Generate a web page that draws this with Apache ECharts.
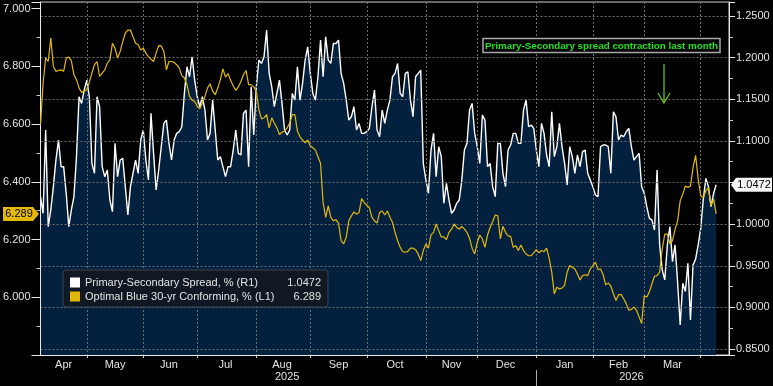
<!DOCTYPE html>
<html>
<head>
<meta charset="utf-8">
<script src="https://cdn.jsdelivr.net/npm/echarts@6/dist/echarts.min.js"></script>
<style>
html,body{margin:0;padding:0;background:#000;}
#c{width:773px;height:386px;}
</style>
</head>
<body>
<div id="c"></div>
<script>
// ---------- DATA ----------
const START_DATE = '2025-04-07';   // first weekday shown
const PAD_DAYS = 5;                // empty weekdays after last observation
const SPREAD_NAME = 'Primary-Secondary Spread, % (R1)';
const RATE_NAME = 'Optimal Blue 30-yr Conforming, % (L1)';
const MONTH_NAMES = ['Jan','Feb','Mar','Apr','May','Jun','Jul','Aug','Sep','Oct','Nov','Dec'];
const ANNOTATION = 'Primary-Secondary spread contraction last month';

// Primary-Secondary spread (right axis), one value per weekday
const spread = [
  1.033,1.013,1.113,0.997,1.017,1.045,1.077,1.101,1.069,1.069,1.037,0.997,1.017,1.033,1.081,1.153,1.145,1.161,
  1.173,1.153,1.073,1.061,1.153,1.141,1.069,1.057,1.065,1.029,1.015,1.097,1.057,1.077,1.079,1.045,1.011,1.045,1.061,1.077,1.061,1.101,
  1.113,1.077,1.053,1.133,1.085,1.041,1.065,1.093,1.121,1.125,1.097,1.077,1.101,1.109,1.111,1.117,1.157,1.189,1.177,1.201,1.173,
  1.153,1.141,1.153,1.137,1.101,1.109,1.149,1.113,1.077,1.081,1.069,1.057,1.069,1.069,1.089,1.113,1.085,1.083,1.133,1.137,1.069,1.165,1.107,
  1.165,1.197,1.193,1.201,1.233,1.181,1.165,1.141,1.157,1.173,1.145,1.113,1.107,1.113,1.157,1.149,1.189,1.149,1.169,1.197,1.213,
  1.181,1.157,1.149,1.177,1.221,1.177,1.225,1.197,1.193,1.217,1.217,1.221,1.181,1.169,1.149,1.125,1.129,1.141,1.113,1.121,1.109,1.109,
  1.111,1.115,1.141,1.161,1.113,1.105,1.137,1.121,1.137,1.149,1.177,1.181,1.193,1.157,1.153,1.181,1.183,1.149,1.129,1.177,1.181,1.185,1.073,
  1.053,1.037,1.089,1.109,1.057,1.093,1.081,1.025,1.049,1.029,1.013,1.017,1.025,1.029,1.053,1.089,1.097,1.137,1.145,1.109,
  1.093,1.073,1.131,1.125,1.069,1.073,1.045,1.033,1.097,1.097,1.061,1.045,1.089,1.095,1.109,1.109,1.097,1.097,1.137,1.149,1.117,1.119,1.115,
  1.089,1.069,1.121,1.109,1.083,1.069,1.135,1.081,1.093,1.121,1.093,1.073,1.047,1.093,1.081,1.061,1.083,1.069,1.087,1.089,1.061,1.053,
  1.045,1.035,1.033,1.093,1.095,1.095,1.093,1.061,1.135,1.129,1.101,1.107,1.105,1.111,1.115,1.093,1.077,1.081,1.085,1.045,
  1.037,1.021,1.007,1.005,0.993,1.065,0.975,0.945,0.933,0.975,0.997,0.955,0.975,0.930,0.879,0.929,0.919,0.953,0.885,0.951,0.958,0.975,
  0.995,1.030,1.055,1.045,1.021,1.037,1.0472
];

// Optimal Blue 30-yr conforming rate (left axis), one value per weekday
const rate = [
  6.599,6.742,6.829,6.817,6.898,6.800,6.783,6.786,6.788,6.783,6.829,6.832,6.819,6.771,6.754,6.725,6.710,6.714,
  6.719,6.745,6.777,6.806,6.817,6.765,6.777,6.788,6.811,6.823,6.880,6.863,6.829,6.852,6.886,6.915,6.926,6.926,6.903,6.880,6.875,6.857,
  6.863,6.846,6.834,6.825,6.817,6.846,6.872,6.871,6.852,6.788,6.817,6.817,6.814,6.806,6.794,6.768,6.760,6.737,6.696,6.683,6.679,
  6.662,6.653,6.673,6.696,6.725,6.740,6.714,6.702,6.725,6.754,6.791,6.763,6.775,6.752,6.733,6.717,6.729,6.748,6.771,6.786,6.737,6.737,6.729,
  6.714,6.650,6.618,6.622,6.633,6.587,6.622,6.604,6.587,6.564,6.572,6.576,6.587,6.604,6.633,6.633,6.576,6.556,6.545,6.535,6.545,
  6.524,6.518,6.510,6.487,6.464,6.328,6.277,6.317,6.277,6.265,6.269,6.257,6.196,6.185,6.208,6.265,6.282,6.296,6.288,6.294,6.342,6.328,
  6.319,6.311,6.277,6.265,6.257,6.294,6.299,6.285,6.299,6.277,6.260,6.225,6.196,6.173,6.158,6.156,6.159,6.170,6.170,6.165,6.150,6.127,6.162,
  6.185,6.170,6.216,6.225,6.254,6.231,6.209,6.209,6.200,6.225,6.236,6.254,6.242,6.236,6.246,6.236,6.225,6.204,6.170,6.150,
  6.190,6.216,6.202,6.173,6.216,6.242,6.262,6.285,6.282,6.202,6.246,6.225,6.213,6.211,6.173,6.179,6.162,6.181,6.162,6.150,6.144,6.144,6.154,
  6.165,6.154,6.162,6.158,6.170,6.135,6.087,6.012,6.035,6.029,6.032,6.041,6.087,6.110,6.104,6.098,6.081,6.060,6.075,6.078,6.075,6.098,
  6.110,6.121,6.096,6.098,6.078,6.043,6.050,6.039,6.012,5.989,6.009,6.009,5.995,5.978,5.955,5.958,5.966,5.955,5.932,5.909,
  6.005,6.001,6.018,6.047,6.073,6.075,6.087,6.167,6.219,6.219,6.185,6.196,6.236,6.265,6.334,6.357,6.386,6.380,6.386,6.449,6.492,6.409,
  6.352,6.346,6.369,6.380,6.317,6.340,6.289
];

// ---------- BUILD ----------
function weekdays(start, n) {
  const out = [];
  const d = new Date(start + 'T00:00:00Z');
  while (out.length < n) {
    const wd = d.getUTCDay();
    if (wd !== 0 && wd !== 6) out.push(d.toISOString().slice(0, 10));
    d.setUTCDate(d.getUTCDate() + 1);
  }
  return out;
}
const N = spread.length + PAD_DAYS;
const dates = weekdays(START_DATE, N);
const pad = a => a.concat(new Array(N - a.length).fill(null));

// month / year segments
const monthStarts = new Set();
const yearStarts = new Set();
const monthSegs = [], yearSegs = [];
let ms = 0, ys = 0;
for (let i = 1; i <= N; i++) {
  if (i === N || dates[i].slice(0, 7) !== dates[i - 1].slice(0, 7)) {
    monthSegs.push([ms, i]); ms = i;
    if (i < N) monthStarts.add(i);
  }
  if (i === N || dates[i].slice(0, 4) !== dates[i - 1].slice(0, 4)) {
    yearSegs.push([ys, i]); ys = i;
    if (i < N) yearStarts.add(i);
  }
}
const monthLabels = new Map();
monthSegs.forEach(([s, e]) => {
  if (e - s >= 15) monthLabels.set(Math.floor((s + e) / 2), MONTH_NAMES[+dates[s].slice(5, 7) - 1]);
});
const yearLabels = new Map();
yearSegs.forEach(([s, e]) => { yearLabels.set(Math.floor((s + e - 1) / 2), dates[s].slice(0, 4)); });

const FONT = '"Liberation Sans", Arial, sans-serif';
const TXT = '#e2e2e2';
const YELLOW = '#e2b90b';
const lastSpread = spread[spread.length - 1];
const lastRate = rate[rate.length - 1];

const option = {
  backgroundColor: '#000',
  animation: false,
  grid: { left: 40, right: 44, top: 2, bottom: 31, show: true, backgroundColor: '#000', borderColor: '#cfcfcf', borderWidth: 1 },
  xAxis: [
    {
      type: 'category', data: dates, boundaryGap: false, z: 3,
      axisLine: { lineStyle: { color: '#e8e8e8', width: 1 } },
      axisTick: { show: true, interval: i => monthStarts.has(i), length: 3, lineStyle: { color: '#cccccc' } },
      axisLabel: { interval: i => monthLabels.has(i), formatter: (v, i) => monthLabels.get(i) || '', color: TXT, fontSize: 11, fontFamily: FONT, margin: 4 },
      splitLine: { show: true, interval: i => monthStarts.has(i), lineStyle: { color: '#6e6e6e', type: [2, 2], width: 1 } }
    },
    {
      type: 'category', data: dates, boundaryGap: false, position: 'bottom', offset: 15,
      axisLine: { show: false },
      axisTick: { show: true, interval: i => yearStarts.has(i), length: 16, lineStyle: { color: '#aaaaaa' } },
      axisLabel: { interval: i => yearLabels.has(i), formatter: (v, i) => yearLabels.get(i) || '', color: TXT, fontSize: 11, fontFamily: FONT, margin: 1 },
      splitLine: { show: false }
    }
  ],
  yAxis: [
    {
      type: 'value', position: 'left', min: 5.8, max: 7.0232, interval: 0.2, z: 3,
      axisLine: { show: true, lineStyle: { color: '#e8e8e8' } },
      axisTick: { show: true, length: 9, lineStyle: { color: '#e8e8e8' } },
      minorTick: { show: true, splitNumber: 2, length: 4, lineStyle: { color: '#cccccc' } },
      axisLabel: { color: TXT, fontSize: 11, fontFamily: FONT, margin: 10, showMinLabel: false, showMaxLabel: false, formatter: v => v.toFixed(3) },
      splitLine: { show: false }
    },
    {
      type: 'value', position: 'right', min: 0.8428, max: 1.2668, splitNumber: 8, minInterval: 0.05, maxInterval: 0.05, z: 3,
      axisLine: { show: true, lineStyle: { color: '#e8e8e8' } },
      axisTick: { show: true, length: 6, lineStyle: { color: '#e8e8e8' } },
      minorTick: { show: true, splitNumber: 2, length: 4, lineStyle: { color: '#cccccc' } },
      axisLabel: { color: TXT, fontSize: 11, fontFamily: FONT, margin: 7, showMinLabel: false, showMaxLabel: false, formatter: v => v.toFixed(4) },
      splitLine: { show: true, lineStyle: { color: '#6e6e6e', type: [2, 2], width: 1 } }
    }
  ],
  legend: {
    orient: 'vertical', left: 63, top: 270, padding: [6, 7, 4, 7],
    itemWidth: 10, itemHeight: 10, itemGap: 1, icon: 'rect',
    backgroundColor: '#101923', borderColor: '#3c4450', borderWidth: 1, borderRadius: 3,
    selectedMode: false,
    textStyle: {
      color: TXT, fontSize: 11, fontFamily: FONT, lineHeight: 13,
      rich: {
        n: { width: 200, color: TXT, fontSize: 11, fontFamily: FONT, lineHeight: 13 },
        v: { width: 36, align: 'right', color: TXT, fontSize: 11, fontFamily: FONT, lineHeight: 13 }
      }
    },
    formatter: name => name === SPREAD_NAME
      ? '{n|' + name + '}{v|' + lastSpread.toFixed(4) + '}'
      : '{n|' + name + '}{v|' + lastRate.toFixed(3) + '}',
    data: [
      { name: SPREAD_NAME, itemStyle: { color: '#ffffff' } },
      { name: RATE_NAME, itemStyle: { color: YELLOW } }
    ]
  },
  series: [
    {
      name: SPREAD_NAME, type: 'line', xAxisIndex: 0, yAxisIndex: 1, data: pad(spread),
      symbol: 'none', showSymbol: false, z: 2,
      lineStyle: { color: '#ffffff', width: 1.4 }, itemStyle: { color: '#ffffff' },
      areaStyle: { color: '#03203f', opacity: 1, origin: 'start' }
    },
    {
      name: RATE_NAME, type: 'line', xAxisIndex: 0, yAxisIndex: 0, data: pad(rate),
      symbol: 'none', showSymbol: false, z: 4,
      lineStyle: { color: YELLOW, width: 1.2 }, itemStyle: { color: YELLOW }
    }
  ]
};

const chart = echarts.init(document.getElementById('c'), null, { renderer: 'canvas' });
chart.setOption(option);

// value tags on the axes, placed via the axes' own scales
const yL = chart.convertToPixel({ yAxisIndex: 0 }, lastRate);
const yR = chart.convertToPixel({ yAxisIndex: 1 }, lastSpread);
chart.setOption({
  graphic: [
    { type: 'polygon', z: 100, shape: { points: [[3, yL - 7], [33, yL - 7], [39, yL], [33, yL + 7], [3, yL + 7]] }, style: { fill: YELLOW } },
    { type: 'text', z: 101, x: 19, y: yL, style: { text: lastRate.toFixed(3), fill: '#000', font: '11px ' + FONT, align: 'center', verticalAlign: 'middle' } },
    { type: 'polygon', z: 100, shape: { points: [[731, yR], [736, yR - 7], [772, yR - 7], [772, yR + 7], [736, yR + 7]] }, style: { fill: '#f4f4f4' } },
    { type: 'text', z: 101, x: 754, y: yR, style: { text: lastSpread.toFixed(4), fill: '#000', font: '11px ' + FONT, align: 'center', verticalAlign: 'middle' } },
    // annotation
    { type: 'rect', z: 100, shape: { x: 483, y: 38.5, width: 237, height: 14 }, style: { fill: '#000', stroke: '#a8a8a8', lineWidth: 1.5 } },
    { type: 'text', z: 101, x: 601.5, y: 46, style: { text: ANNOTATION, fill: '#22e022', font: 'bold 9.8px ' + FONT, align: 'center', verticalAlign: 'middle' } },
    { type: 'line', z: 100, shape: { x1: 664, y1: 64, x2: 664, y2: 103 }, style: { stroke: '#6cbf1a', lineWidth: 1.3 } },
    { type: 'polyline', z: 100, shape: { points: [[658, 93], [664, 103], [670, 93]] }, style: { stroke: '#6cbf1a', lineWidth: 1.3, fill: null } }
  ]
});
</script>
</body>
</html>
